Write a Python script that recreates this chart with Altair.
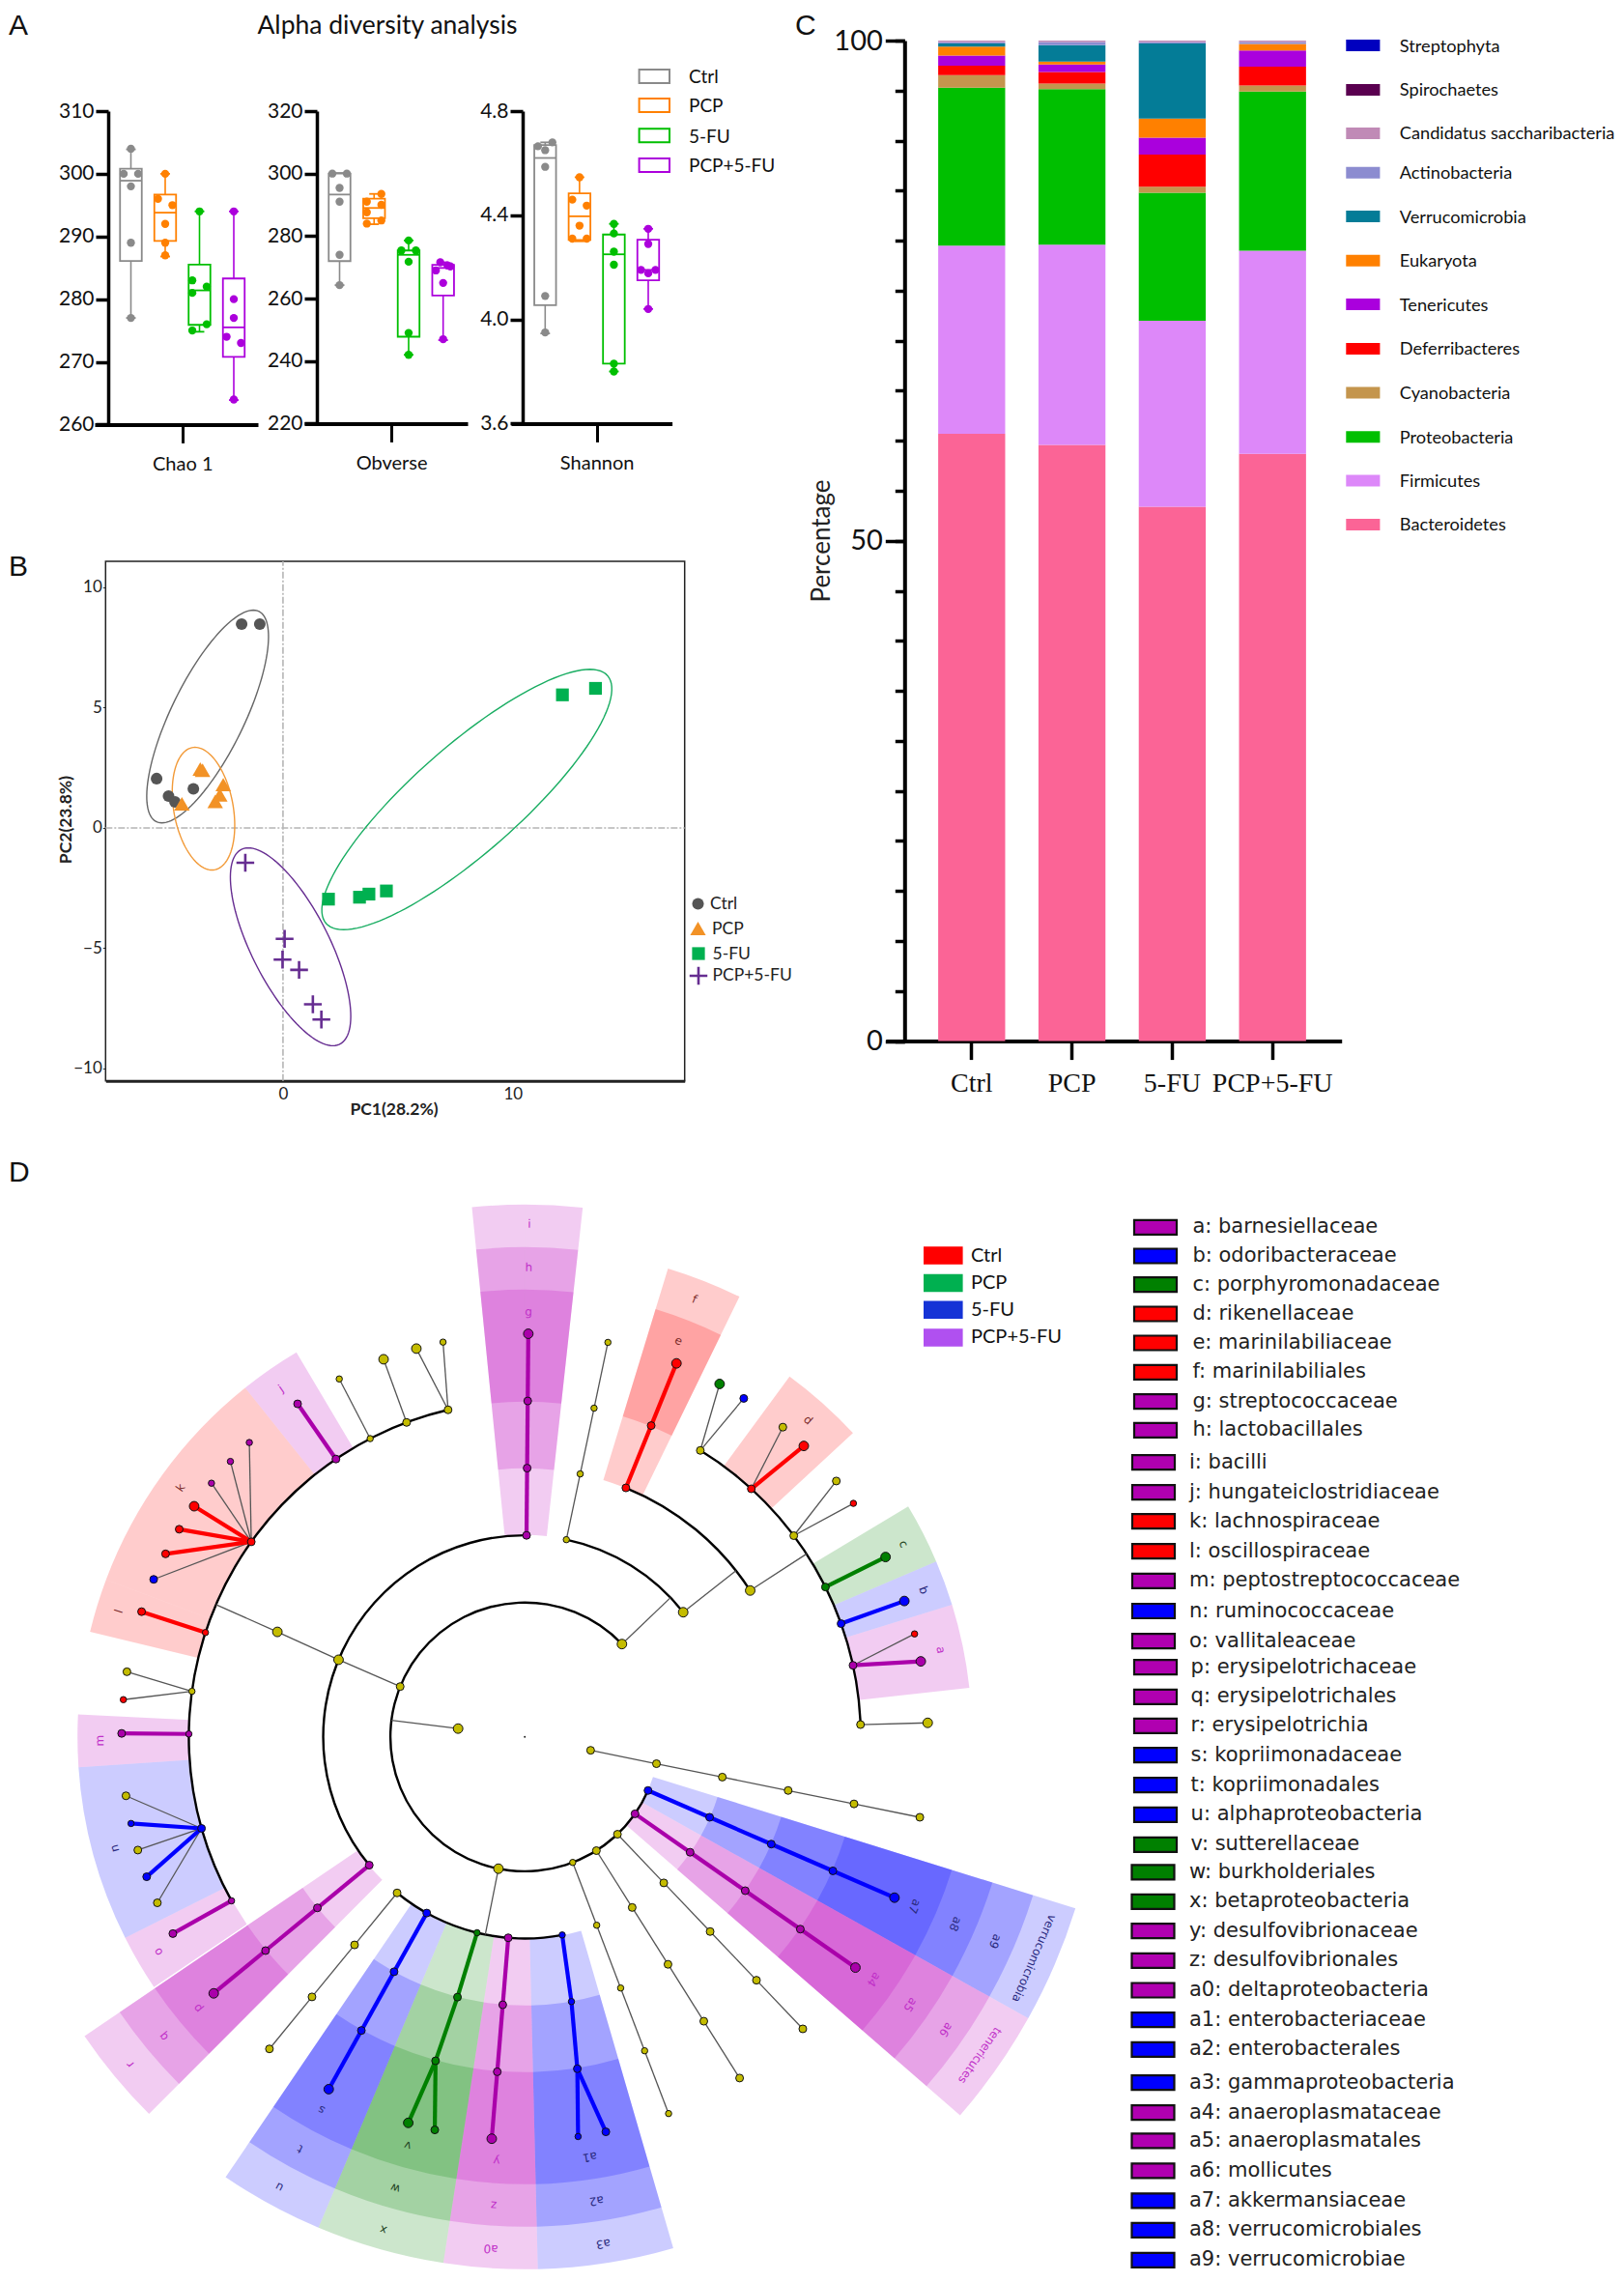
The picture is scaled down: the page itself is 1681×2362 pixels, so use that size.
import numpy as np
import pandas as pd
import altair as alt

W, H = 1665, 2346
NARROW = "Lato"
LATO = "Lato"
DEJAVU = "DejaVu Sans"
SERIF = "Liberation Serif"
SANS = "Liberation Sans"

def X(v):
    return v - 8

# ---------- Panel A values ----------
groups = ["Ctrl", "PCP", "5-FU", "PCP+5-FU"]
box_colors = ["#8A8A8A", "#FF8000", "#00BF00", "#AC00DC"]

chao_min = [277, 286.8, 274.8, 263.9]
chao_q1 = [286.1, 289.3, 275.9, 270.8]
chao_med = [298.9, 293.8, 281.4, 275.5]
chao_q3 = [300.8, 296.7, 285.5, 283.3]
chao_max = [303.9, 300, 294, 294]
chao_pg = [1, 1, 1, 1, 1, 1, 2, 2, 2, 2, 2, 2, 3, 3, 3, 3, 3, 3, 4, 4, 4, 4, 4, 4]
chao_pj = [0, -1, 1, 0, 0, 0, 0, -1, 1, 0, 0, 0, 0, -1, 1, -1, 1, -1, 0, 0, 0, -1, 1, 0]
chao_pv = [304, 300, 300, 298, 289, 277, 300, 296, 295, 292, 289, 287,
           294, 283, 282, 281, 276, 275, 294, 280, 277, 274, 273, 264]

obs_min = [264.3, 283.8, 242, 246.7]
obs_q1 = [272, 285.7, 247.8, 261]
obs_med = [293.3, 289, 274, 269.8]
obs_q3 = [300, 292, 275.4, 270.8]
obs_max = [300.2, 293.5, 278.6, 271.6]
obs_pg = chao_pg
obs_pj = [-1, 1, 0, 0, 0, 0, 1, -1, 1, -1, 1, -1, 0, -1, 1, 0, 0, 0, -0.4, -1, 1, 0, 0.6, 0]
obs_pv = [300, 300, 295.4, 291, 274, 264.3, 293.5, 291, 290, 287.6, 285, 284,
          278.6, 275.4, 275.4, 271.8, 249, 242, 271.6, 269, 270.3, 265, 270.6, 247]

sha_min = [3.946, 4.30, 3.80, 4.04]
sha_q1 = [4.055, 4.305, 3.83, 4.15]
sha_med = [4.62, 4.396, 4.25, 4.19]
sha_q3 = [4.67, 4.484, 4.326, 4.306]
sha_max = [4.68, 4.546, 4.367, 4.348]
sha_pg = chao_pg
sha_pj = [1, -1, 0, 0, 0, 0, 0, -1, 1, 0, -1, 1, 0, 0, 0, 0, 0, 0, 0, 0, -1, 1, 0, 0]
sha_pv = [4.68, 4.665, 4.65, 4.586, 4.09, 3.95, 4.546, 4.46, 4.437, 4.36, 4.31, 4.31,
          4.367, 4.33, 4.26, 4.21, 3.83, 3.80, 4.348, 4.29, 4.19, 4.19, 4.177, 4.04]

# ---------- Panel B values ----------
b_ctrl_x = [-1.8, -1.01, -5.5, -4.98, -4.7, -3.9]
b_ctrl_y = [8.47, 8.47, 2.05, 1.32, 1.08, 1.62]
b_pcp_x = [-3.6, -3.5, -2.6, -2.75, -2.95, -4.4]
b_pcp_y = [2.45, 2.4, 1.8, 1.37, 1.1, 1.0]
b_fu_x = [1.98, 3.33, 3.74, 4.5, 12.16, 13.6]
b_fu_y = [-2.96, -2.88, -2.75, -2.62, 5.53, 5.8]
b_mix_x = [-1.64, 0.07, -0.02, 0.7, 1.3, 1.67]
b_mix_y = [-1.45, -4.61, -5.47, -5.9, -7.33, -7.96]
# ellipse: centre x, centre y, half width, half height, x offset of the topmost point
ell_ctrl = [-3.28, 4.63, 2.65, 4.42, 1.99]
ell_pcp = [-3.46, 0.80, 1.36, 2.55, -0.37]
ell_fu = [8.0, 1.18, 6.31, 5.41, 5.36]
ell_mix = [0.33, -4.94, 2.62, 4.11, -1.84]
ell_colors = ["#666666", "#F29A38", "#19AD62", "#662D91"]

# ---------- Panel C values ----------
phyla = ["Bacteroidetes", "Firmicutes", "Proteobacteria", "Cyanobacteria", "Deferribacteres",
         "Tenericutes", "Eukaryota", "Verrucomicrobia", "Actinobacteria",
         "Candidatus saccharibacteria", "Spirochaetes", "Streptophyta"]
phyla_colors = ["#FB6496", "#DD88F9", "#00BF00", "#C4954D", "#FF0000", "#AA00DD", "#FF8000",
                "#047C97", "#8C8CD0", "#C08AB6", "#5A0050", "#0000BF"]
c_ctrl = [60.7, 18.8, 15.8, 1.25, 0.95, 1.0, 0.9, 0.3, 0.15, 0.15, 0, 0]
c_pcp = [59.6, 20.0, 15.55, 0.55, 1.15, 0.75, 0.3, 1.65, 0.3, 0.15, 0, 0]
c_fu = [53.4, 18.6, 12.8, 0.6, 3.2, 1.7, 1.9, 7.5, 0.15, 0.15, 0, 0]
c_mix = [58.7, 20.3, 15.9, 0.6, 1.9, 1.6, 0.65, 0.0, 0.2, 0.15, 0, 0]

# ---------- Panel D values ----------
STEP = 69.55
TAX = {"m": "#AA00AA", "b": "#0000FF", "g": "#008000", "r": "#FF0000", "o": "#C4BC00"}
SIZES = {"S": 42, "M": 64, "L": 98}

wedge_from = [354.3, 17, 36.3, 59, 66.9, 72.8, 107.3, 119.2, 163.8, 178.6, 188.8, 202.8, 224.9,
              236, 243.3, 266.1, 283.6, 290.6, 321.3]
wedge_to = [6.25, 26, 47.2, 66.9, 72.8, 83.7, 119.2, 131, 178.6, 188.8, 202.8, 214.2, 235.8,
            243.3, 266.1, 272.9, 290.6, 321.3, 329.3]
wedge_depth = [3, 2, 1, 1, 1, 1, 4, 4, 3, 3, 3, 3, 3, 1, 1, 1, 1, 1, 1]
wedge_tax = ["m", "r", "r", "g", "b", "m", "b", "m", "b", "m", "g", "b", "m", "m", "b", "m", "r", "r", "m"]

label_text = ["a", "b", "c", "d", "e", "f", "g", "h", "i", "j", "k", "l", "m", "n", "o", "p", "q", "r",
              "s", "t", "u", "v", "w", "x", "y", "z", "a0", "a1", "a2", "a3", "a4", "a5", "a6",
              "a7", "a8", "a9", "tenericutes", "verrucomicrobia"]
label_theta = [78.2, 69.8, 63, 41.8, 21.2, 21.2, 0.5, 0.5, 0.5, 325, 305.9, 287.2, 269.5, 254.8, 239.6,
               230.3, 230.3, 230.3, 208.6, 208.6, 208.6, 196, 196, 196, 183.8, 183.8, 183.8,
               171.2, 171.2, 171.2, 124.8, 124.8, 124.8, 113.5, 113.5, 113.5, 125, 113.5]
label_radius = [440, 440, 440, 440, 440, 486, 440, 486, 531, 440, 440, 440, 440, 440, 440,
                440, 486, 531, 440, 486, 531, 440, 486, 531, 440, 486, 531,
                440, 486, 531, 440, 486, 531, 440, 486, 531, 575, 575]
label_tax = ["m", "b", "g", "r", "r", "r", "m", "m", "m", "m", "r", "r", "m", "b", "m", "m", "m", "m",
             "b", "b", "b", "g", "g", "g", "m", "m", "m", "b", "b", "b", "m", "m", "m",
             "b", "b", "b", "m", "b"]

ring_from = [113.5, 169.3, 230.4, 11.9, 22.1, 31.5, 240.8]
ring_to = [406.3, 219.3, 360.5, 51.8, 57, 87.9, 346.8]
ring_level = [2, 3, 3, 3, 4, 5, 5]

chain_theta = [0.5, 11.9, 22.1, 101.5, 113.5, 124.9, 136.4, 147.8, 159.1, 184.7, 209.1, 219.3, 230.5]
chain_from = [3, 3, 4, 1, 2, 2, 2, 2, 2, 3, 3, 3, 3]
chain_to = [6, 6, 6, 6, 6, 6, 6, 6, 6, 6, 6, 6, 6]
chain_tax = ["m", "o", "r", "o", "b", "m", "o", "o", "o", "m", "b", "o", "m"]
chain_size = ["M", "S", "M", "M", "L", "M", "M", "M", "S", "M", "M", "M", "M"]

hub_theta = [31.5, 42.4, 53.2, 63.5, 70.3, 77.7, 87.9, 240.8, 254.2, 270.5, 277.8, 288.1, 305.5,
             325.8, 332.6, 339.4, 346.8, 171, 195.4, 169.3, 170, 193.7, 194.5,
             57, 51.8, 46.3, 191.3, 277.1, 292, 292.5, 293]
hub_level = [5, 5, 5, 5, 5, 5, 5, 5, 5, 5, 5, 5, 5, 5, 5, 5, 5, 5, 5, 3, 4, 3, 4, 4, 3, 2, 2, 1, 2, 3, 4]
hub_tax = ["o", "r", "o", "g", "b", "m", "o", "m", "b", "m", "o", "r", "r", "m", "o", "o", "o", "b", "g",
           "b", "b", "g", "g", "o", "o", "o", "o", "o", "o", "o", "o"]
hub_size = ["M", "M", "M", "M", "M", "M", "M", "S", "M", "S", "S", "S", "M", "M", "S", "M", "M", "M", "M",
            "S", "S", "S", "M", "L", "L", "L", "L", "L", "M", "L", "L"]

leaf_parent = [31.5, 31.5, 42.4, 42.4, 53.2, 53.2, 63.5, 70.3, 77.7, 77.7, 87.9, 240.8,
               254.2, 254.2, 254.2, 254.2, 254.2, 270.5, 277.8, 277.8, 288.1,
               305.5, 305.5, 305.5, 305.5, 305.5, 305.5, 305.5, 325.8, 332.6, 339.4, 346.8, 346.8,
               171, 171, 195.4, 195.4]
leaf_theta = [28.9, 32.9, 43.8, 39.8, 50.6, 54.6, 63.5, 70.3, 79.2, 75.2, 88, 240.8,
              261.6, 257.6, 253.7, 249.7, 245.7, 270.5, 279.3, 275.3, 288.1,
              293, 297, 301, 304.9, 309, 313.1, 316.9, 325.7, 332.6, 339.5, 344.4, 348.3,
              172.4, 168.4, 196.8, 192.9]
leaf_tax = ["g", "b", "r", "o", "o", "r", "g", "b", "m", "r", "o", "m",
            "o", "b", "o", "b", "o", "m", "o", "r", "r",
            "b", "r", "r", "r", "m", "m", "m", "m", "o", "o", "o", "o",
            "b", "b", "g", "g"]
leaf_size = ["L", "M", "L", "M", "M", "S", "L", "L", "L", "S", "L", "M",
             "M", "S", "M", "M", "M", "M", "M", "S", "M",
             "M", "M", "M", "L", "S", "S", "S", "M", "S", "L", "L", "S",
             "S", "M", "L", "M"]
leaf_thick = [0, 0, 1, 0, 0, 0, 1, 1, 1, 0, 0, 1,
              0, 1, 0, 1, 0, 1, 0, 0, 1,
              0, 1, 1, 1, 0, 0, 0, 1, 0, 0, 0, 0,
              1, 1, 1, 1]

join_theta0 = [57, 51.8, 46.3, 191.3, 277.1, 292, 292.5, 293, 169.3, 170, 193.7, 194.5]
join_level0 = [4, 3, 2, 2, 1, 2, 3, 4, 3, 4, 3, 4]
join_theta1 = [57, 51.8, 46.3, 191.3, 277.1, 292.5, 293, 293.2, 170, 171, 194.5, 195.4]
join_level1 = [5, 4, 3, 3, 2, 3, 4, 5, 4, 5, 4, 5]
join_thick = [0, 0, 0, 0, 0, 0, 0, 0, 1, 1, 1, 1]
join_tax = ["o", "o", "o", "o", "o", "o", "o", "o", "b", "b", "g", "g"]

key_top = ["Ctrl", "PCP", "5-FU", "PCP+5-FU"]
key_top_colors = ["#FF0000", "#00B050", "#1533D6", "#B050F0"]

key_names = ["a: barnesiellaceae", "b: odoribacteraceae", "c: porphyromonadaceae", "d: rikenellaceae",
             "e: marinilabiliaceae", "f: marinilabiliales", "g: streptococcaceae", "h: lactobacillales",
             "i: bacilli", "j: hungateiclostridiaceae", "k: lachnospiraceae", "l: oscillospiraceae",
             "m: peptostreptococcaceae", "n: ruminococcaceae", "o: vallitaleaceae", "p: erysipelotrichaceae",
             "q: erysipelotrichales", "r: erysipelotrichia", "s: kopriimonadaceae", "t: kopriimonadales",
             "u: alphaproteobacteria", "v: sutterellaceae", "w: burkholderiales", "x: betaproteobacteria",
             "y: desulfovibrionaceae", "z: desulfovibrionales", "a0: deltaproteobacteria",
             "a1: enterobacteriaceae", "a2: enterobacterales", "a3: gammaproteobacteria",
             "a4: anaeroplasmataceae", "a5: anaeroplasmatales", "a6: mollicutes", "a7: akkermansiaceae",
             "a8: verrucomicrobiales", "a9: verrucomicrobiae"]
key_tax = ["m", "b", "g", "r", "r", "r", "m", "m", "m", "m", "r", "r", "m", "b", "m", "m", "m", "m",
           "b", "b", "b", "g", "g", "g", "m", "m", "m", "b", "b", "b", "m", "m", "m", "b", "b", "b"]
key_rows = [1270.4, 1300, 1329.6, 1360, 1390, 1420.4, 1450.7, 1480.4, 1513.6, 1544.6, 1574.6, 1605.7,
            1636.4, 1667.5, 1698.6, 1725.7, 1756.4, 1786.4, 1816.6, 1847.6, 1878.3, 1909.3, 1937.8,
            1968.4, 1998.7, 2029.3, 2060, 2090.6, 2121.3, 2155.6, 2186.6, 2215.8, 2246.8, 2277.8,
            2308.4, 2339.4]

layers = []
def none_x(f):
    return alt.X(f, scale=None, axis=None)
def none_y(f):
    return alt.Y(f, scale=None, axis=None)

def text_layer(rows, font, weight="normal", align="left"):
    df = pd.DataFrame(rows, columns=["px", "py", "t", "sz", "c", "ang"])
    df["px"] = df["px"] - 8
    df["py"] = df["py"] - 8
    return alt.Chart(df).mark_text(font=font, fontWeight=weight, align=align, baseline="middle").encode(
        x=none_x("px:Q"), y=none_y("py:Q"), text="t:N",
        size=alt.Size("sz:Q", scale=None),
        color=alt.Color("c:N", scale=None),
        angle=alt.Angle("ang:Q", scale=None))

def swatches(xa, xb, ys, h, colors, stroke=None, sw=0, fill=True):
    df = pd.DataFrame({"x0": xa, "x1": xb, "y0": np.array(ys) - 8 - h / 2, "y1": np.array(ys) - 8 + h / 2, "c": colors})
    df["x0"] = df["x0"] - 8
    df["x1"] = df["x1"] - 8
    if fill:
        kw = dict(stroke=stroke, strokeWidth=sw) if stroke else {}
        return alt.Chart(df).mark_rect(**kw).encode(
            x=none_x("x0:Q"), x2="x1:Q", y=none_y("y0:Q"), y2="y1:Q", fill=alt.Fill("c:N", scale=None))
    return alt.Chart(df).mark_rect(fill="white", strokeWidth=sw).encode(
        x=none_x("x0:Q"), x2="x1:Q", y=none_y("y0:Q"), y2="y1:Q", stroke=alt.Stroke("c:N", scale=None))

# ---------- Panel A ----------
def box_panel(label, xL, xR, axis_x, centers, y_top, y_bot, dom, ticks, fmt,
              mn, q1, med, q3, mx, pg, pj, pv):
    step = (centers[3] - centers[0]) / 3
    xdom = [1 - (centers[0] - xL) / step, 4 + (xR - centers[3]) / step]
    sx = alt.Scale(domain=xdom, range=[X(xL), X(xR)], nice=False, zero=False)
    sy = alt.Scale(domain=dom, range=[X(y_bot), X(y_top)], nice=False, zero=False)
    hw = (22.5 / 2) / step
    g = np.arange(1, 5)
    d = pd.DataFrame({"g": g, "xl": g - hw, "xr": g + hw, "cl": g - 0.14, "cr": g + 0.14, "mn": mn, "q1": q1,
                      "med": med, "q3": q3, "mx": mx, "c": box_colors})
    stroke = alt.Stroke("c:N", scale=None)
    out = []
    xax = alt.Axis(orient="bottom", offset=X(y_bot) - H, values=[2.5], labelExpr=f"'{label}'", title=None, grid=False,
                   domainWidth=4, domainColor="black", tickWidth=3, tickColor="black", tickSize=19,
                   labelFont=NARROW, labelFontSize=20, labelColor="#111111", labelPadding=12)
    yax = alt.Axis(orient="left", offset=-X(axis_x), values=ticks, format=fmt, title=None, grid=False,
                   domainWidth=3.5, domainColor="black", tickWidth=3.5, tickColor="black", tickSize=13,
                   labelFont=NARROW, labelFontSize=21, labelColor="#111111", labelPadding=2)
    out.append(alt.Chart(d).mark_rect(fill="white", fillOpacity=0, strokeWidth=1.8).encode(
        x=alt.X("xl:Q", scale=sx, axis=xax), x2="xr:Q",
        y=alt.Y("q1:Q", scale=sy, axis=yax), y2="q3:Q", stroke=stroke))
    for a, b in (("mn", "q1"), ("q3", "mx")):
        out.append(alt.Chart(d).mark_rule(strokeWidth=1.6).encode(
            x=alt.X("g:Q", scale=sx, axis=None), y=alt.Y(f"{a}:Q", scale=sy, axis=None), y2=f"{b}:Q", stroke=stroke))
    for v in ("mn", "mx"):
        out.append(alt.Chart(d).mark_rule(strokeWidth=1.8).encode(
            x=alt.X("cl:Q", scale=sx, axis=None), x2="cr:Q", y=alt.Y(f"{v}:Q", scale=sy, axis=None), stroke=stroke))
    out.append(alt.Chart(d).mark_rule(strokeWidth=1.8).encode(
        x=alt.X("xl:Q", scale=sx, axis=None), x2="xr:Q", y=alt.Y("med:Q", scale=sy, axis=None), stroke=stroke))
    p = pd.DataFrame({"x": np.array(pg) + np.array(pj) * 0.21, "v": pv, "c": [box_colors[i - 1] for i in pg]})
    out.append(alt.Chart(p).mark_circle(size=70, opacity=1).encode(
        x=alt.X("x:Q", scale=sx, axis=None), y=alt.Y("v:Q", scale=sy, axis=None), color=alt.Color("c:N", scale=None)))
    return out

layers += box_panel("Chao 1", 98, 267, 112, [135.5, 171, 206.6, 242], 115, 439.4, [260, 310],
                    [260, 270, 280, 290, 300, 310], "d",
                    chao_min, chao_q1, chao_med, chao_q3, chao_max, chao_pg, chao_pj, chao_pv)
layers += box_panel("Obverse", 315, 484, 328, [351.5, 387, 423, 458.7], 115, 438.4, [220, 320],
                    [220, 240, 260, 280, 300, 320], "d",
                    obs_min, obs_q1, obs_med, obs_q3, obs_max, obs_pg, obs_pj, obs_pv)
layers += box_panel("Shannon", 529, 695.6, 541, [564.3, 600, 635.5, 671], 115, 438.4, [3.6, 4.8],
                    [3.6, 4.0, 4.4, 4.8], ".1f",
                    sha_min, sha_q1, sha_med, sha_q3, sha_max, sha_pg, sha_pj, sha_pv)
layers.append(swatches([661.6] * 4, [693] * 4, [79, 109, 140.3, 171], 14, box_colors, sw=2, fill=False))

# ---------- Panel B ----------
bx = alt.Scale(domain=[-7.72, 17.48], range=[X(109.3), X(708.7)], nice=False, zero=False)
by = alt.Scale(domain=[-10.51, 11.08], range=[X(1118.7), X(581)], nice=False, zero=False)
frame = pd.DataFrame({"x0": [-7.72], "x1": [17.48], "y0": [-10.51], "y1": [11.08], "z": [0]})
bxax = alt.Axis(orient="bottom", offset=X(1118.7) - H, values=[0, 10], title=None, grid=False, domainWidth=3,
                domainColor="#222222", tickSize=0, labelFont=NARROW, labelFontSize=17, labelColor="#222222", labelPadding=6)
byax = alt.Axis(orient="left", offset=-X(109.3), values=[-10, -5, 0, 5, 10], title=None, grid=False, domain=False,
                tickSize=3, tickColor="#333333", labelFont=NARROW, labelFontSize=17, labelColor="#222222", labelPadding=1)
layers.append(alt.Chart(frame).mark_rect(fill="white", fillOpacity=0, stroke="#222222", strokeWidth=1.5).encode(
    x=alt.X("x0:Q", scale=bx, axis=bxax), x2="x1:Q", y=alt.Y("y0:Q", scale=by, axis=byax), y2="y1:Q"))
layers.append(alt.Chart(frame).mark_rule(stroke="#B5B5B5", strokeWidth=1.6, strokeDash=[7, 2, 2, 2]).encode(
    x=alt.X("x0:Q", scale=bx, axis=None), x2="x1:Q", y=alt.Y("z:Q", scale=by, axis=None)))
layers.append(alt.Chart(frame).mark_rule(stroke="#B5B5B5", strokeWidth=1.6, strokeDash=[7, 2, 2, 2]).encode(
    y=alt.Y("y0:Q", scale=by, axis=None), y2="y1:Q", x=alt.X("z:Q", scale=bx, axis=None)))
t = np.linspace(0, 2 * np.pi, 121)
for e, c in zip([ell_ctrl, ell_pcp, ell_fu, ell_mix], ell_colors):
    ex = e[0] + e[4] * np.sin(t) + np.sqrt(e[2] ** 2 - e[4] ** 2) * np.cos(t)
    ey = e[1] + e[3] * np.sin(t)
    layers.append(alt.Chart(pd.DataFrame({"x": ex, "y": ey, "o": np.arange(len(t))})).mark_line(
        stroke=c, strokeWidth=1.4).encode(x=alt.X("x:Q", scale=bx, axis=None), y=alt.Y("y:Q", scale=by, axis=None), order="o:Q"))
PLUS = "M-1,0L1,0M0,-1L0,1"
mk_ctrl = dict(shape="circle", filled=True, size=145, color="#555555", opacity=1)
mk_pcp = dict(shape="triangle-up", filled=True, size=260, color="#F29226", opacity=1)
mk_fu = dict(shape="square", filled=True, size=175, color="#00B050", opacity=1)
mk_mix = dict(shape=PLUS, filled=False, size=340, color="#662D91", strokeWidth=2.6, opacity=1)
for xs, ys, mk in ((b_ctrl_x, b_ctrl_y, mk_ctrl), (b_pcp_x, b_pcp_y, mk_pcp), (b_fu_x, b_fu_y, mk_fu), (b_mix_x, b_mix_y, mk_mix)):
    layers.append(alt.Chart(pd.DataFrame({"x": xs, "y": ys})).mark_point(**mk).encode(
        x=alt.X("x:Q", scale=bx, axis=None), y=alt.Y("y:Q", scale=by, axis=None)))
for (px, py), mk in zip([(722.5, 935.6), (722.5, 961), (723, 987), (723, 1010)], [mk_ctrl, mk_pcp, mk_fu, mk_mix]):
    layers.append(alt.Chart(pd.DataFrame({"x": [px - 8], "y": [py - 8]})).mark_point(**mk).encode(
        x=none_x("x:Q"), y=none_y("y:Q")))

# ---------- Panel C ----------
cdf = pd.DataFrame([{"g": g, "p": p, "k": i, "v": v} for g, vals in zip(groups, [c_ctrl, c_pcp, c_fu, c_mix])
                    for i, (p, v) in enumerate(zip(phyla, vals))])
cx = alt.Scale(domain=groups, range=[X(916.8), X(1388.7)], paddingInner=0.332, paddingOuter=0.439, align=0.596)
cy = alt.Scale(domain=[0, 100], range=[X(1077.6), X(42)], nice=False, zero=False)
cxax = alt.Axis(orient="bottom", offset=X(1077.6) - H, title=None, grid=False, labelAngle=0, domainWidth=4, domainColor="black",
                tickWidth=3.5, tickColor="black", tickSize=19, labelFont=SERIF, labelFontSize=28, labelColor="#111111", labelPadding=11)
cyax = alt.Axis(orient="left", offset=-X(936.3), values=[0, 50, 100], title=None, grid=False, domainWidth=4, domainColor="black",
                tickWidth=3.5, tickColor="black", tickSize=20, labelFont=NARROW, labelFontSize=29, labelColor="#111111", labelPadding=3)
cyax2 = alt.Axis(orient="left", offset=-X(936.3), values=list(range(0, 101, 5)), title=None, grid=False, domain=False,
                 tickWidth=3.5, tickColor="black", tickSize=10, labels=False)
layers.append(alt.Chart(cdf).mark_bar().encode(
    x=alt.X("g:N", scale=cx, axis=cxax, sort=groups),
    y=alt.Y("v:Q", scale=cy, axis=cyax, stack="zero"),
    color=alt.Color("p:N", scale=alt.Scale(domain=phyla, range=phyla_colors), legend=None),
    order=alt.Order("k:Q")))
layers.append(alt.Chart(pd.DataFrame({"v": [0]})).mark_point(opacity=0).encode(
    x=alt.value(0), y=alt.Y("v:Q", scale=cy, axis=cyax2)))
c_rows = [543, 497.5, 452.3, 406.4, 361, 315, 269.8, 224, 178.7, 138, 93, 47]
layers.append(swatches([1393.3] * 12, [1428.4] * 12, c_rows, 12, phyla_colors))

# ---------- Panel D ----------
CX, CY = X(543.2), X(1797.8)
dx = alt.Scale(domain=[-CX, W - CX], range=[0, W], nice=False, zero=False)
dy = alt.Scale(domain=[-CY, H - CY], range=[0, H], nice=False, zero=False)
tscale = alt.Scale(domain=[0, 420], range=[0, 420 * np.pi / 180])
rscale = alt.Scale(type="linear", domain=[0, 1000], range=[0, 1000], nice=False, zero=False)
DEPTHS = {1: [(347, 463)], 2: [(278, 507), (347, 463)], 3: [(209, 551), (278, 507), (347, 463)],
          4: [(139, 597), (209, 551), (278, 507), (347, 463)]}
WEDGE = {"m": "#C000C0", "b": "#0000FF", "g": "#008000", "r": "#FF0000"}
rows = []
for a, b, d, tx in zip(wedge_from, wedge_to, wedge_depth, wedge_tax):
    if a > b:
        a -= 360
    for r0, r1 in DEPTHS[d]:
        if a < 0:
            rows.append(dict(t0=a + 360, t1=360, r0=r0, r1=r1, c=WEDGE[tx], cx=0, cy=0))
            rows.append(dict(t0=0, t1=b, r0=r0, r1=r1, c=WEDGE[tx], cx=0, cy=0))
        else:
            rows.append(dict(t0=a, t1=b, r0=r0, r1=r1, c=WEDGE[tx], cx=0, cy=0))
def arc_layer(df, **kw):
    return alt.Chart(df).mark_arc(**kw).encode(
        x=alt.X("cx:Q", scale=dx, axis=None), y=alt.Y("cy:Q", scale=dy, axis=None),
        theta=alt.Theta("t0:Q", scale=tscale), theta2="t1:Q",
        radius=alt.Radius("r1:Q", scale=rscale), radius2="r0:Q",
        color=alt.Color("c:N", scale=None))
layers.append(arc_layer(pd.DataFrame(rows), opacity=0.2))
rings = pd.DataFrame({"t0": ring_from, "t1": ring_to,
                      "r0": [STEP * l - 1.2 for l in ring_level], "r1": [STEP * l + 1.2 for l in ring_level],
                      "c": "#000000", "cx": 0, "cy": 0})
layers.append(arc_layer(rings, opacity=1))

def polar(theta, rad):
    a = np.radians(np.asarray(theta, float))
    r = np.asarray(rad, float)
    return r * np.sin(a), -r * np.cos(a)

LAB = {"m": "#C030C8", "b": "#2A2A80", "g": "#224422", "r": "#7A2A2A"}
lx, ly = polar(label_theta, label_radius)
ldf = pd.DataFrame({"x": lx, "y": ly, "t": label_text, "a": label_theta, "c": [LAB[k] for k in label_tax]})
ascale = alt.Scale(domain=[0, 360], range=[0, 360])
layers.append(alt.Chart(ldf).mark_text(font=DEJAVU, fontSize=12, baseline="middle", align="center").encode(
    x=alt.X("x:Q", scale=dx, axis=None), y=alt.Y("y:Q", scale=dy, axis=None), text="t:N",
    angle=alt.Angle("a:Q", scale=ascale), color=alt.Color("c:N", scale=None)))

edges = []
for th, a, b, tx in zip(chain_theta, chain_from, chain_to, chain_tax):
    for l in range(a, b):
        edges.append((th, l, th, l + 1, 0 if tx == "o" else 1, tx))
for p, th, tx, thick in zip(leaf_parent, leaf_theta, leaf_tax, leaf_thick):
    edges.append((p, 5, th, 6, thick, tx))
for a0, l0, a1, l1, thick, tx in zip(join_theta0, join_level0, join_theta1, join_level1, join_thick, join_tax):
    edges.append((a0, l0, a1, l1, thick, tx))
e = pd.DataFrame(edges, columns=["a0", "l0", "a1", "l1", "thick", "tx"])
e["x0"], e["y0"] = polar(e["a0"], e["l0"] * STEP)
e["x1"], e["y1"] = polar(e["a1"], e["l1"] * STEP)
e["c"] = [TAX[k] if th else "#555555" for k, th in zip(e["tx"], e["thick"])]
for thick, width in ((0, 1.3), (1, 4.2)):
    layers.append(alt.Chart(e[e["thick"] == thick]).mark_rule(strokeWidth=width).encode(
        x=alt.X("x0:Q", scale=dx, axis=None), x2="x1:Q", y=alt.Y("y0:Q", scale=dy, axis=None), y2="y1:Q",
        stroke=alt.Stroke("c:N", scale=None)))

nodes = []
for th, a, b, tx, s in zip(chain_theta, chain_from, chain_to, chain_tax, chain_size):
    for l in range(a, b + 1):
        nodes.append((th, l, tx, ("L" if tx != "o" else s) if l == b else ("M" if s == "L" else s)))
for th, l, tx, s in zip(hub_theta, hub_level, hub_tax, hub_size):
    nodes.append((th, l, tx, s))
for th, tx, s in zip(leaf_theta, leaf_tax, leaf_size):
    nodes.append((th, 6, tx, s))
n = pd.DataFrame(nodes, columns=["a", "l", "tx", "s"])
n["x"], n["y"] = polar(n["a"], n["l"] * STEP)
n["c"] = [TAX[k] for k in n["tx"]]
n["z"] = [SIZES[k] for k in n["s"]]
layers.append(alt.Chart(n).mark_circle(stroke="#111111", strokeWidth=1, opacity=1).encode(
    x=alt.X("x:Q", scale=dx, axis=None), y=alt.Y("y:Q", scale=dy, axis=None),
    size=alt.Size("z:Q", scale=None), color=alt.Color("c:N", scale=None)))
layers.append(alt.Chart(pd.DataFrame({"x": [0], "y": [0]})).mark_circle(size=4, color="#222222", opacity=1).encode(
    x=alt.X("x:Q", scale=dx, axis=None), y=alt.Y("y:Q", scale=dy, axis=None)))

layers.append(swatches([956] * 4, [996.6] * 4, [1299.5, 1328, 1355.7, 1384.4], 18.5, key_top_colors))
kx0 = [1174] * 8 + [1172] * 7 + [1174] * 7 + [1171.5] * 14
layers.append(swatches(kx0, [v + 44 for v in kx0], key_rows, 15, [{"m": "#B000B0", "b": "#0000FF", "g": "#008000", "r": "#FF0000"}[k] for k in key_tax],
                       stroke="#111111", sw=2.2))

# ---------- Text ----------
narrow_rows = [("Ctrl", 713, 80), ("PCP", 713, 110), ("5-FU", 713, 141.5), ("PCP+5-FU", 713, 172)]
rows_n = [(x, y, t, 19, "#111111", 0) for t, x, y in narrow_rows]
rows_n += [(735, 936, "Ctrl", 17.5, "#222222", 0), (737, 962, "PCP", 17.5, "#222222", 0),
           (737.5, 988, "5-FU", 17.5, "#222222", 0), (737.5, 1010, "PCP+5-FU", 17.5, "#222222", 0)]
c_text_y = [544, 498.7, 453.5, 407.6, 362, 317, 271, 225.8, 180, 139, 94, 48.6]
rows_n += [(1448.8, y, p, 18.2, "#111111", 0) for p, y in zip(phyla, c_text_y)]
layers.append(text_layer(rows_n, NARROW))
layers.append(text_layer([(401, 26.5, "Alpha diversity analysis", 26.5, "#111111", 0)], NARROW, align="center"))
layers.append(text_layer([(408, 1149, "PC1(28.2%)", 17.5, "#222222", 0), (68.6, 848.6, "PC2(23.8%)", 17.5, "#222222", 270)],
                         NARROW, weight="bold", align="center"))
rows_p = [(9, 27, "A", 30, "#111111", 0), (9, 587, "B", 30, "#111111", 0), (823, 27, "C", 30, "#111111", 0),
          (9, 1213.5, "D", 30, "#111111", 0)]
layers.append(text_layer(rows_p, SANS))
layers.append(text_layer([(1005, y, t, 20, "#111111", 0) for t, y in zip(key_top, [1299.5, 1328, 1355.7, 1384.4])], LATO))
layers.append(text_layer([(851, 560, "Percentage", 26, "#222222", 270)], LATO, align="center"))
kxt = [1234.4] * 8 + [1231] * 7 + [1232.6] * 7 + [1231] * 14
layers.append(text_layer([(x, y, t, 21, "#222222", 0) for x, y, t in zip(kxt, key_rows, key_names)], DEJAVU))

chart = alt.layer(*layers).resolve_scale(x="independent", y="independent").properties(
    width=W, height=H, padding=0, autosize=alt.AutoSizeParams(type="none"), background="white"
).configure_view(stroke=None)

chart.save("out.html", embed_options={"renderer": "svg", "actions": False})
